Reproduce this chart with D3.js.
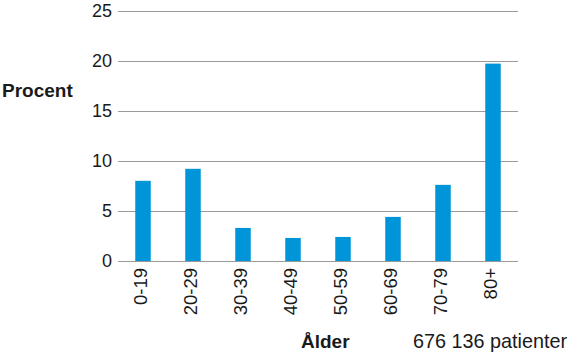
<!DOCTYPE html>
<html>
<head>
<meta charset="utf-8">
<script src="https://cdn.jsdelivr.net/npm/d3@7"></script>
<style>
  html, body { margin: 0; padding: 0; background: #fff; }
  svg { display: block; font-family: "Liberation Sans", Arial, sans-serif; }
</style>
</head>
<body>
<svg id="chart" width="580" height="357"></svg>
<script>
const categories = ["0-19", "20-29", "30-39", "40-49", "50-59", "60-69", "70-79", "80+"];
const values = [8.0, 9.2, 3.3, 2.3, 2.4, 4.4, 7.6, 19.7];
const yTicks = [0, 5, 10, 15, 20, 25];
const yLabel = "Procent";
const xLabel = "Ålder";
const note = "676 136 patienter";

(function () {
const svg = d3.select("#chart");
const pLeft = 118, pRight = 518, pTop = 10.5, pBottom = 261;

const x = d3.scaleBand().domain(categories).range([pLeft, pRight]).paddingInner(0.69).paddingOuter(0.345);
const y = d3.scaleLinear().domain([0, 25]).range([pBottom, pTop]);

// gridlines
svg.append("g").selectAll("line").data(yTicks).join("line")
  .attr("x1", pLeft).attr("x2", pRight)
  .attr("y1", d => Math.round(y(d)) + 0.5).attr("y2", d => Math.round(y(d)) + 0.5)
  .attr("stroke", "#9a9a9a").attr("stroke-width", 1.2);

// y tick labels
svg.append("g").selectAll("text").data(yTicks).join("text")
  .attr("x", 112).attr("y", d => y(d)).attr("dy", "0.36em")
  .attr("text-anchor", "end").attr("font-size", 18).attr("fill", "#1a1a1a")
  .text(d => d);

// bars
svg.append("g").selectAll("rect").data(categories).join("rect")
  .attr("x", d => x(d)).attr("width", x.bandwidth())
  .attr("y", (d, i) => y(values[i])).attr("height", (d, i) => y(0) - y(values[i]))
  .attr("fill", "#0095d8");

// x labels (rotated)
svg.append("g").selectAll("text").data(categories).join("text")
  .attr("transform", d => `translate(${x(d) + x.bandwidth() / 2 + 3.5},268) rotate(-90)`)
  .attr("text-anchor", "end").attr("font-size", 18.5).attr("fill", "#1a1a1a")
  .text(d => d);

svg.append("text").attr("x", 2).attr("y", 97)
  .attr("font-size", 19).attr("font-weight", "bold").attr("fill", "#1a1a1a").text(yLabel);

svg.append("text").attr("x", 301).attr("y", 347.5)
  .attr("font-size", 19).attr("font-weight", "bold").attr("fill", "#1a1a1a").text(xLabel);

svg.append("text").attr("x", 413).attr("y", 347.5)
  .attr("font-size", 19.8).attr("fill", "#1a1a1a").text(note);
})();
</script>
</body>
</html>
